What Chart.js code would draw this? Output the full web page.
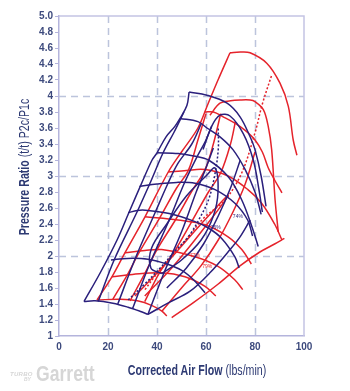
<!DOCTYPE html>
<html><head><meta charset="utf-8">
<script src="https://cdn.jsdelivr.net/npm/chart.js@4"></script>
<style>
html,body{margin:0;padding:0;background:#fff;}
#wrap{position:relative;width:350px;height:391px;overflow:hidden;}
canvas{position:absolute;left:0;top:0;}
.t{position:absolute;font-family:'Liberation Sans','Arial',sans-serif;color:#2d3a73;white-space:nowrap;font-size:14px;line-height:1;}
.t b{font-weight:bold}
#xt{left:197px;top:363px;transform:translateX(-50%) scaleX(0.76);}
#yt{left:24px;top:167px;transform:translate(-50%,-50%) rotate(-90deg) scaleX(0.76);}
#logo{position:absolute;left:10px;top:363px;width:100px;height:26px;font-family:'Liberation Sans','Arial',sans-serif;color:#d6d6d6;}
#logo .g{position:absolute;left:26px;top:0;font-size:22px;font-weight:bold;line-height:1;transform-origin:0 0;transform:scaleX(0.8);}
#logo .s1{position:absolute;left:0;top:8px;font-size:6px;font-weight:bold;font-style:italic;line-height:1;letter-spacing:0.3px;}
#logo .s2{position:absolute;left:14px;top:14px;font-size:5px;font-weight:bold;font-style:italic;line-height:1;}
</style></head><body>
<div id="wrap"><canvas id="c" width="350" height="391"></canvas>
<div class="t" id="xt"><b>Corrected Air Flow</b> (lbs/min)</div>
<div class="t" id="yt"><b>Pressure Ratio</b> (t/t) P2c/P1c</div>
<div id="logo"><span class="s1">TURBO</span><span class="s2">BY</span><span class="g">Garrett</span></div>
</div>
<script>
// ---- axis data ----
const xTickValues = [0, 20, 40, 60, 80, 100];
const xTickLabels = ['0', '20', '40', '60', '80', '100'];
const yTickValues = [1,1.2,1.4,1.6,1.8,2,2.2,2.4,2.6,2.8,3,3.2,3.4,3.6,3.8,4,4.2,4.4,4.6,4.8,5];
const yTickLabels = ['1','1.2','1.4','1.6','1.8','2','2.2','2.4','2.6','2.8','3','3.2','3.4','3.6','3.8','4','4.2','4.4','4.6','4.8','5.0'];
const xGridValues = [20, 40, 60, 80];
const yGridValues = [2, 3, 4];

// ---- navy compressor map (flow lbs/min, pressure ratio) ----
const navySurge = [[10.2,1.43],[17,1.8],[23.7,2.2],[28.5,2.54],[34.3,2.95],[38,3.2],[40,3.29],[43.7,3.49],[47.3,3.62],[49.4,3.72],[52.2,3.88],[53.1,4.05]];
const navySpeed1 = [[10.2,1.43],[14.7,1.44],[22,1.41],[28.2,1.36],[33,1.31],[36.3,1.27]];
const navySpeed2 = [[21.2,1.95],[28,1.97],[36.3,1.96],[44,1.9],[50.1,1.82],[55,1.7],[59.6,1.54]];
const navySpeed3 = [[28.2,2.54],[32,2.57],[36.3,2.57],[45,2.53],[55.5,2.43],[61,2.35],[66.4,2.22],[71.8,1.99],[73.5,1.85]];
const navySpeed4 = [[32.8,2.87],[40,2.9],[48,2.92],[55.5,2.91],[63.7,2.83],[71.8,2.66],[77,2.45],[79,2.25]];
const navySpeed5 = [[40,3.29],[48.7,3.28],[55,3.25],[61,3.2],[69.1,2.99],[74.6,2.7],[78.7,2.37],[81.3,2.12]];
const navySpeed6 = [[49.4,3.72],[56.7,3.68],[60.4,3.6],[65.7,3.49],[71,3.33],[76,3.08],[80,2.8],[82.5,2.52]];
const navySpeed7 = [[53.1,4.05],[60.4,4.01],[68.6,3.91],[73.9,3.74],[78,3.49],[80,3.33],[82.5,3.0],[84.5,2.62]];
const navyIslandTop = [[58.8,3.33],[62.3,3.62],[65.7,3.76],[69.8,3.75],[75.2,3.53],[79.3,3.2],[81.5,2.85],[83,2.55]];
const navyDiag1 = [[16,1.43],[22.5,1.95],[31.7,2.54],[37,2.9],[42.5,3.29],[47,3.55],[51,3.8]];
const navyDiag2 = [[24,1.4],[31,1.96],[39.2,2.54],[44.5,2.91],[48.6,3.16],[54.2,3.4],[58,3.65]];
const navyDiag3 = [[30,1.34],[37,1.9],[45,2.45],[51,2.9],[56,3.22],[60,3.45],[62.3,3.62]];
const navyDiag4 = [[36.3,1.27],[43,1.8],[50,2.3],[56,2.8],[60,3.1],[63,3.35]];
const navyRight1 = [[36.3,1.27],[45,1.42],[53.5,1.56],[61.6,1.79],[69.8,2.08],[73.9,2.24],[78,2.45]];
const navyRight2 = [[44,1.6],[52,1.85],[59,2.15],[65,2.5],[70,2.85],[74,3.2]];
const navyInner = [[41.9,1.78],[37.5,1.85],[37.8,2.1],[44,2.4],[52,2.75],[60,3.0],[63.7,3.1],[64.9,2.8],[63,2.5],[58,2.2],[50,1.95],[41.9,1.78]];
const navyDotted = [[28.2,1.45],[35,1.65],[41.9,1.87],[47,2.05],[52.8,2.24],[57,2.45],[61,2.7],[63.5,3.0],[65,3.33],[65,3.6]];

// ---- red compressor map ----
const redSurge = [[15.5,1.45],[21.6,1.74],[26.9,2.04],[35.1,2.49],[44.6,3.05],[50,3.3],[56.7,3.6],[60.8,3.9],[64.9,4.2],[69.8,4.54]];
const redSpeed1 = [[15.5,1.45],[25,1.46],[32,1.44],[38,1.38],[42,1.31],[44,1.25]];
const redSpeed2 = [[21.6,1.74],[30,1.77],[41.9,1.79],[51.4,1.74],[59.6,1.62],[64,1.5]];
const redSpeed3 = [[26.9,2.04],[35,2.07],[41.9,2.08],[55.5,1.99],[64.9,1.87],[71.8,1.7],[75,1.58]];
const redSpeed4 = [[35.1,2.49],[48.6,2.45],[59.6,2.39],[69,2.24],[74.6,2.08],[78.5,1.9]];
const redSpeed5 = [[44.6,3.05],[52,3.07],[59.6,3.08],[69,3.0],[77.1,2.83],[82.7,2.66],[88,2.4],[91,2.2]];
const redSpeed6 = [[59.5,3.8],[63,3.8],[67,3.74],[71.8,3.66],[76,3.57],[80,3.45],[83,3.3],[85.3,3.11],[88,2.95],[91,2.79]];
const redSpeed7 = [[61.6,3.76],[65.7,3.91],[70,3.94],[73.9,3.95],[78,3.95],[80,3.93],[83.4,3.83],[85.4,3.62],[86.8,3.33],[88.2,2.7],[89.5,2.3]];
const redSpeedTop = [[69.8,4.54],[74,4.55],[78,4.54],[84.8,4.41],[90.2,4.16],[93.6,3.87],[95.6,3.45],[97.1,3.26]];
const redDiag1 = [[22,1.46],[28,1.77],[33,2.06],[41,2.47],[48,2.85],[52.8,3.07],[56.7,3.45],[60,3.78]];
const redDiag2 = [[29,1.44],[35,1.78],[40,2.08],[47.5,2.45],[54,2.8],[59.6,3.08],[63,3.4],[66,3.78]];
const redDiag3 = [[35,1.43],[41,1.79],[47,2.05],[54,2.42],[61,2.8],[66,3.04],[70,3.4],[72,3.68]];
const redRight1 = [[42,1.31],[50,1.6],[58,1.88],[65,2.2],[71,2.55],[76,2.9],[80,3.3]];
const redRight2 = [[46,1.23],[55,1.42],[65,1.65],[74,1.88],[82,2.05],[88,2.15],[92,2.22]];
const redInner = [[31,1.5],[45,1.95],[58,2.4],[69.1,2.76],[58,2.3],[46,1.85],[35,1.5]];
const redDotted = [[35.1,1.58],[40,1.78],[46,1.99],[53,2.25],[59.6,2.49],[67.8,2.7],[74.6,3.04],[80,3.54],[83,3.9],[86.8,4.26]];

// ---- efficiency labels ----
const effLabels = ['77%', '79%', '74%', '76%'];
const effLabelX = [55.5, 60.5, 73, 64];
const effLabelY = [2.0, 1.87, 2.49, 2.35];
const effLabelColor = ['red', 'red', 'navy', 'navy'];

const NAVY = '#2a1f7c';
const RED = '#e5232b';
const FONT = "'Liberation Sans Narrow','Liberation Sans',sans-serif";

const series = [
  [navySurge, NAVY, null], [navySpeed1, NAVY, null], [navySpeed2, NAVY, null], [navySpeed3, NAVY, null],
  [navySpeed4, NAVY, null], [navySpeed5, NAVY, null], [navySpeed6, NAVY, null], [navySpeed7, NAVY, null],
  [navyIslandTop, NAVY, null], [navyDiag1, NAVY, null], [navyDiag2, NAVY, null], [navyDiag3, NAVY, null],
  [navyDiag4, NAVY, null], [navyRight1, NAVY, null], [navyRight2, NAVY, null], [navyInner, NAVY, null],
  [navyDotted, NAVY, [2,2]],
  [redSurge, RED, null], [redSpeed1, RED, null], [redSpeed2, RED, null], [redSpeed3, RED, null],
  [redSpeed4, RED, null], [redSpeed5, RED, null], [redSpeed6, RED, null], [redSpeed7, RED, null],
  [redSpeedTop, RED, null], [redDiag1, RED, null], [redDiag2, RED, null], [redDiag3, RED, null],
  [redRight1, RED, null], [redRight2, RED, null], [redInner, RED, null], [redDotted, RED, [2,2]]
];

const datasets = series.map(([pts, color, dash]) => ({
  data: pts.map(p => ({x: p[0], y: p[1]})),
  showLine: true,
  borderColor: color,
  backgroundColor: color,
  borderWidth: 1.5,
  borderDash: dash || [],
  pointRadius: 0,
  tension: 0.35,
  fill: false
}));

const gridPlugin = {
  id: 'mapGrid',
  beforeDatasetsDraw(chart) {
    const {ctx, scales: {x, y}} = chart;
    ctx.save();
    ctx.lineWidth = 1.5;
    ctx.strokeStyle = '#bcc4dc';
    ctx.setLineDash([7, 5]);
    xGridValues.forEach(v => {
      const px = Math.round(x.getPixelForValue(v)) + 0.5;
      ctx.beginPath(); ctx.moveTo(px, y.getPixelForValue(5)); ctx.lineTo(px, y.getPixelForValue(1)); ctx.stroke();
    });
    yGridValues.forEach(v => {
      const py = Math.round(y.getPixelForValue(v)) + 0.5;
      ctx.beginPath(); ctx.moveTo(x.getPixelForValue(0), py); ctx.lineTo(x.getPixelForValue(100), py); ctx.stroke();
    });
    ctx.setLineDash([]);
    ctx.strokeStyle = '#c4c4e4';
    ctx.lineWidth = 1.5;
    ctx.beginPath();
    ctx.moveTo(x.getPixelForValue(0), y.getPixelForValue(5));
    ctx.lineTo(x.getPixelForValue(100), y.getPixelForValue(5));
    ctx.lineTo(x.getPixelForValue(100), y.getPixelForValue(1));
    ctx.stroke();
    ctx.restore();
  },
  afterDatasetsDraw(chart) {
    const {ctx, scales: {x, y}} = chart;
    ctx.save();
    ctx.font = '5px ' + FONT;
    ctx.textAlign = 'center';
    ctx.textBaseline = 'middle';
    effLabels.forEach((t, i) => {
      ctx.fillStyle = effLabelColor[i] === 'red' ? RED : NAVY;
      ctx.fillText(t, x.getPixelForValue(effLabelX[i]), y.getPixelForValue(effLabelY[i]));
    });
    ctx.restore();
  }
};

new Chart(document.getElementById('c'), {
  type: 'scatter',
  data: {datasets},
  plugins: [gridPlugin],
  options: {
    responsive: false,
    animation: false,
    devicePixelRatio: 1,
    layout: {padding: {top: 16, right: 46, left: 0, bottom: 0}},
    plugins: {legend: {display: false}, tooltip: {enabled: false}},
    scales: {
      x: {
        type: 'linear', min: 0, max: 100,
        afterFit: s => { s.height = 55; },
        afterBuildTicks: s => { s.ticks = xTickValues.map(v => ({value: v})); },
        ticks: {
          callback: (v) => xTickLabels[xTickValues.indexOf(v)],
          font: {family: FONT, size: 10, weight: 'bold'}, color: '#3d4a7d', padding: 5, maxRotation: 0
        },
        grid: {display: false, drawTicks: false},
        border: {display: true, color: '#b4b4dc', width: 1.5}
      },
      y: {
        type: 'linear', min: 1, max: 5,
        afterFit: s => { s.width = 59; },
        afterBuildTicks: s => { s.ticks = yTickValues.map(v => ({value: v})); },
        ticks: {
          callback: (v) => { const i = yTickValues.findIndex(t => Math.abs(t - v) < 1e-6); return i >= 0 ? yTickLabels[i] : ''; },
          font: {family: FONT, size: 10, weight: 'bold'}, color: '#3d4a7d', padding: 2
        },
        grid: {drawOnChartArea: false, drawTicks: true, tickLength: 4, tickColor: '#b4b4dc', lineWidth: 1},
        border: {display: true, color: '#b4b4dc', width: 1.5}
      }
    }
  }
});
</script>
</body></html>
